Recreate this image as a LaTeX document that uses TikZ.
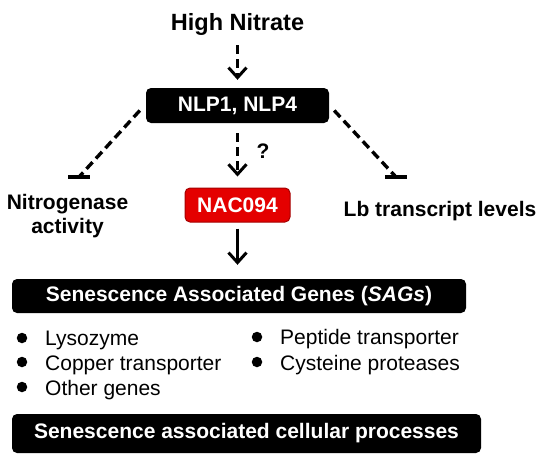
\documentclass[tikz,border=0pt]{standalone}
\usepackage{fontspec}
\setmainfont{Liberation Sans}
\usetikzlibrary{arrows.meta}
\definecolor{nacred}{RGB}{228,0,0}
\definecolor{nacedge}{RGB}{165,0,0}

\begin{document}
\begin{tikzpicture}[x=1pt, y=-1pt,
    blackbox/.style={rectangle, fill=black, rounded corners=5pt,
                     text=white, inner sep=0pt,
                     font=\fontsize{21}{24}\selectfont\bfseries, align=center},
    nacbox/.style={blackbox, fill=nacred, draw=nacedge, line width=1pt},
    lbl/.style={inner sep=0pt, font=\fontsize{21}{24}\selectfont\bfseries, align=center},
    item/.style={inner sep=0pt, anchor=base west, font=\fontsize{21}{24}\selectfont},
    dot/.style={circle, fill=black, inner sep=0pt, minimum size=10.5pt},
    darr/.style={line width=3.4pt, dash pattern=on 9pt off 5pt,
                 -{Straight Barb[length=10pt, width=18pt, line width=3pt]}},
    sarr/.style={line width=3.4pt, -{Straight Barb[length=10pt, width=18pt, line width=3pt]}},
    inh/.style={line width=3.4pt, dash pattern=on 9pt off 5pt},
    tbar/.style={line width=3.4pt}
  ]
    \useasboundingbox (0,0) rectangle (545,464);

    \node[lbl, anchor=base, font=\fontsize{23.5}{26}\selectfont\bfseries] (hn) at (237.5,30) {High Nitrate};
    \node[blackbox, minimum width=183pt, minimum height=35pt] (nlp) at (237.5,105.5) {NLP1, NLP4};
    \node[nacbox, minimum width=105pt, minimum height=34pt] (nac) at (237.5,205) {NAC094};
    \node[lbl] (q) at (263,151) {?};

    \node[lbl] (nit) at (67.5,216) {Nitrogenase\\activity};
    \node[lbl, anchor=base] (lb) at (440,216) {Lb transcript levels};

    \node[blackbox, minimum width=454pt, minimum height=34pt] (sag) at (239,296)
      {Senescence Associated Genes (\textit{SAGs})};
    \node[blackbox, minimum width=469pt, minimum height=39pt] (proc) at (246.5,433.5)
      {Senescence associated cellular processes};

    % gene list
    \node[dot] (d1) at (22,338) {};
    \node[dot] (d2) at (22,362) {};
    \node[dot] (d3) at (22,387) {};
    \node[dot] (d4) at (257,337) {};
    \node[dot] (d5) at (257,362) {};
    \node[item] (g1) at (45,345) {Lysozyme};
    \node[item] (g2) at (45,370) {Copper transporter};
    \node[item] (g3) at (45,395) {Other genes};
    \node[item] (g4) at (280,344) {Peptide transporter};
    \node[item] (g5) at (280,370) {Cysteine proteases};

    \coordinate (tl) at (79,177);
    \coordinate (tr) at (396,177);

    \draw[darr, shorten <=10pt, shorten >=8pt] (hn.south) -- (nlp.north);
    \draw[darr, shorten <=10pt, shorten >=11pt] (nlp.south) -- (nac.north);
    \draw[sarr, shorten <=6pt, shorten >=14pt] (nac.south) -- (sag.north -| nac.south);
    \draw[inh] ([shift={(-6,5)}]nlp.west) -- (tl);
    \draw[inh] ([shift={(5,5)}]nlp.east) -- (tr);
    \draw[tbar] ([xshift=-11pt]tl) -- ([xshift=11pt]tl);
    \draw[tbar] ([xshift=-11pt]tr) -- ([xshift=11pt]tr);
  \end{tikzpicture}
\end{document}
